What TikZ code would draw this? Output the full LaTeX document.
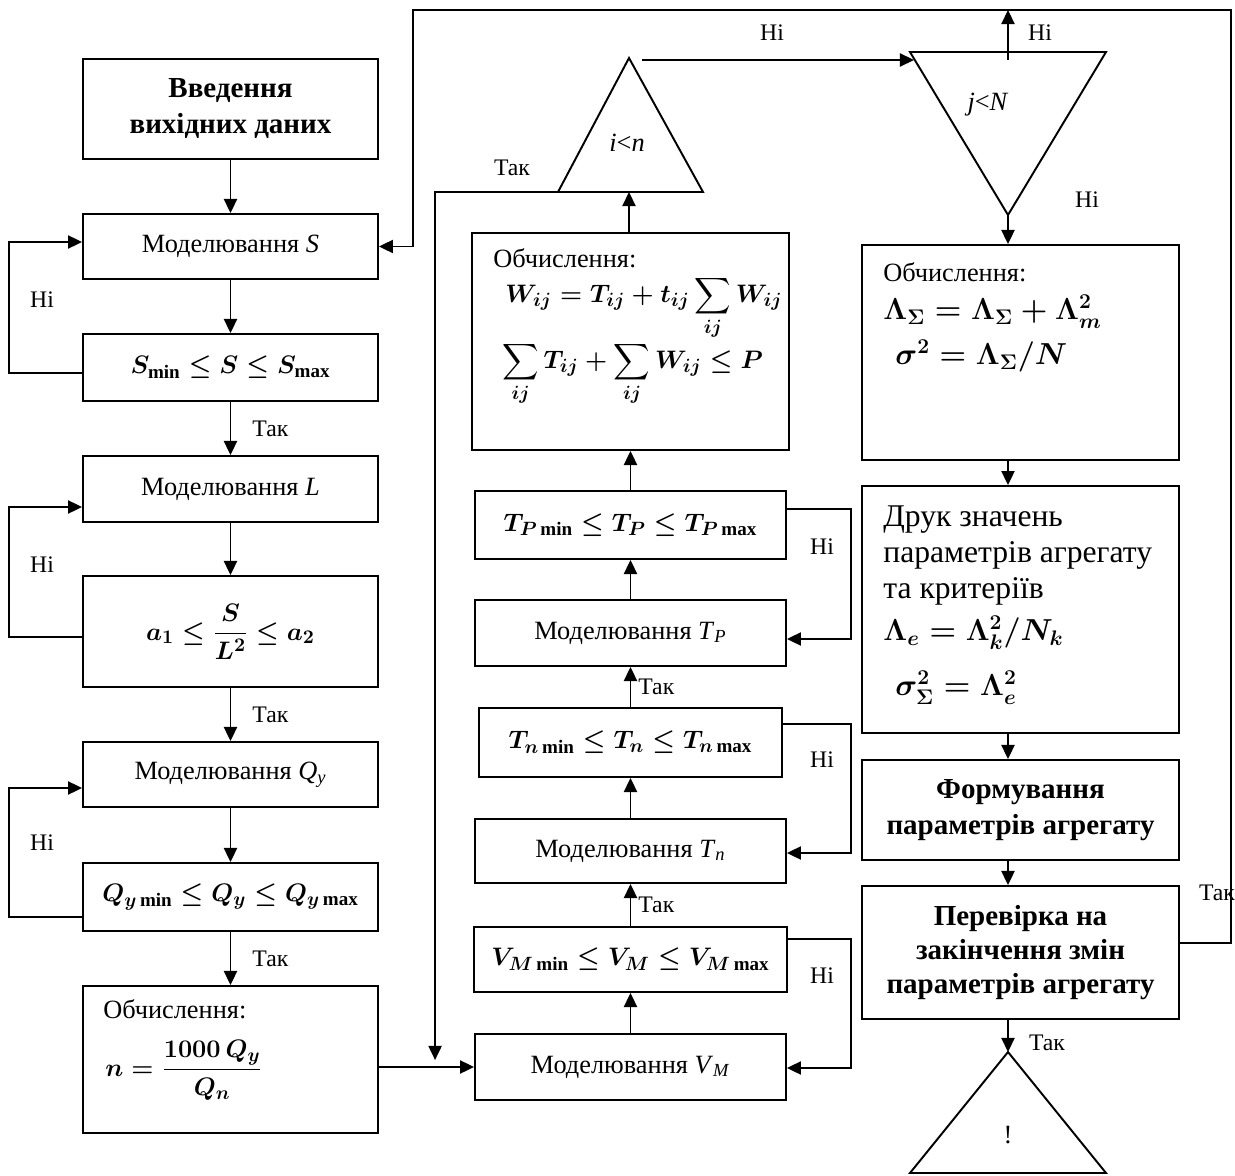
\documentclass[tikz,border=0pt]{standalone}
\usepackage{amsmath}
\usepackage{fontspec}
\setmainfont{Liberation Serif}
\usetikzlibrary{shapes,arrows.meta,positioning,calc}

\begin{document}
\begin{tikzpicture}[x=0.02cm,y=-0.02cm]

  \tikzset{main node/.style={rectangle, draw, line width=1.1pt, inner sep=0pt,
  		text centered, font=\fontsize{15}{18}\selectfont}, }
  \tikzset{bold node/.style={main node, align=center,
  		font=\fontsize{16.5}{20.5}\selectfont\bfseries}, }
  \tikzset{left col/.style={minimum width=5.9cm}, }
  \tikzset{mid col/.style={minimum width=6.22cm}, }
  \tikzset{right col/.style={minimum width=6.34cm}, }
  \tikzset{txt node/.style={inner sep=0pt, align=left,
  		font=\fontsize{15}{18}\selectfont}, }
  \tikzset{fml node/.style={inner sep=0pt, font=\fontsize{15.5}{18}\selectfont}, }
  \tikzset{lbl node/.style={inner sep=0pt, font=\fontsize{13.5}{16}\selectfont}, }
  \tikzset{tri/.style={line width=1.1pt, line join=miter}, }
  \tikzset{linea/.style={-{Triangle[length=8pt,width=7.5pt]}, line width=0.9pt}, }
\useasboundingbox (0,0) rectangle (1235,1176);

%% left column
\node[bold node, left col, minimum height=2cm] (1) at (230.5,109) {Введення\\вихідних даних};
\node[main node, left col, minimum height=1.3cm] (2) at (230.5,246.5) {Моделювання \textit{S}};
\node[main node, left col, minimum height=1.34cm, fml node] (3) at (230.5,367.5)
  {$\boldsymbol{S_{\min}\le S\le S_{\max}}$};
\node[main node, left col, minimum height=1.32cm] (4) at (230.5,489) {Моделювання \textit{L}};
\node[main node, left col, minimum height=2.22cm, fml node] (5) at (230.5,631.5)
  {$\boldsymbol{a_1\le\dfrac{S}{L^2}\le a_2}$};
\node[main node, left col, minimum height=1.3cm] (6) at (230.5,774.5)
  {Моделювання \textit{Q}\textsubscript{\textit{y}}};
\node[main node, left col, minimum height=1.36cm, fml node] (7) at (230.5,897)
  {$\boldsymbol{Q_{y\min}\le Q_y\le Q_{y\max}}$};
\node[main node, left col, minimum height=2.94cm] (8) at (230.5,1059.5) {};
\node[txt node, anchor=base west] (8t) at (103,1018) {Обчислення:};
\node[fml node, anchor=west] (8f) at (105,1070) {$\boldsymbol{n=\dfrac{1000\,Q_y}{Q_n}}$};

%% middle column
\node[main node, mid col, minimum height=1.32cm] (9) at (630.5,1067)
  {Моделювання \textit{V}\textsubscript{\textit{M}}};
\node[main node, minimum width=6.26cm, minimum height=1.3cm, fml node] (10) at (630.5,959.5)
  {$\boldsymbol{V_{M\min}\le V_M\le V_{M\max}}$};
\node[main node, mid col, minimum height=1.28cm] (11) at (630.5,851)
  {Моделювання \textit{T}\textsubscript{\textit{n}}};
\node[main node, minimum width=6.06cm, minimum height=1.38cm, fml node] (12) at (630.5,742.5)
  {$\boldsymbol{T_{n\min}\le T_n\le T_{n\max}}$};
\node[main node, mid col, minimum height=1.32cm] (13) at (630.5,633)
  {Моделювання \textit{T}\textsubscript{\textit{P}}};
\node[main node, mid col, minimum height=1.36cm, fml node] (14) at (630.5,525)
  {$\boldsymbol{T_{P\min}\le T_P\le T_{P\max}}$};
\node[main node, minimum width=6.34cm, minimum height=4.34cm] (15) at (630.5,341.5) {};
\node[txt node, anchor=base west] (15t) at (493,267) {Обчислення:};
\node[fml node, anchor=west] (15f) at (505,308)
  {$\boldsymbol{\displaystyle W_{ij}=T_{ij}+t_{ij}\sum_{ij}W_{ij}}$};
\node[fml node, anchor=west] (15g) at (502,374)
  {$\boldsymbol{\displaystyle\sum_{ij}T_{ij}+\sum_{ij}W_{ij}\le P}$};

%% right column
\node[main node, right col, minimum height=4.3cm] (16) at (1020.5,352.5) {};
\node[txt node, anchor=base west] (16t) at (883,281) {Обчислення:};
\node[fml node, anchor=west, font=\fontsize{17}{20}\selectfont] (16f) at (883,312)
  {$\boldsymbol{\Lambda_{\Sigma}=\Lambda_{\Sigma}+\Lambda_{m}^{2}}$};
\node[fml node, anchor=west, font=\fontsize{17}{20}\selectfont] (16g) at (895,356)
  {$\boldsymbol{\sigma^{2}=\Lambda_{\Sigma}/N}$};
\node[main node, right col, minimum height=4.94cm] (17) at (1020.5,609.5) {};
\node[txt node, anchor=north west, font=\fontsize{18}{20.5}\selectfont] (17t) at (883,505)
  {Друк значень\\параметрів агрегату\\та критеріїв};
\node[fml node, anchor=west, font=\fontsize{17}{20}\selectfont] (17f) at (883,633)
  {$\boldsymbol{\Lambda_{e}=\Lambda_{k}^{2}/N_{k}}$};
\node[fml node, anchor=west, font=\fontsize{17}{20}\selectfont] (17g) at (895,688)
  {$\boldsymbol{\sigma_{\Sigma}^{2}=\Lambda_{e}^{2}}$};
\node[bold node, right col, minimum height=2cm] (18) at (1020.5,810)
  {Формування\\параметрів агрегату};
\node[bold node, right col, minimum height=2.66cm, font=\fontsize{16.5}{19.5}\selectfont\bfseries]
  (19) at (1020.5,952.5) {Перевірка на\\закінчення змін\\параметрів агрегату};

%% triangles
\coordinate (t1a) at (629,58); \coordinate (t1l) at (558,192); \coordinate (t1r) at (703,192);
\draw[tri] (t1a) -- (t1l) -- (t1r) -- cycle;
\node[txt node] (t1) at (627,143) {\textit{i}<\textit{n}};
\coordinate (t2a) at (1008,215); \coordinate (t2l) at (910,52); \coordinate (t2r) at (1106,52);
\coordinate (t2m) at (1008,60);
\draw[tri] (t2l) -- (t2r) -- (t2a) -- cycle;
\node[txt node] (t2) at (988,105) {\textit{j}<\textit{N}};
\coordinate (t3a) at (1008,1052); \coordinate (t3l) at (910,1173); \coordinate (t3r) at (1106,1173);
\draw[tri] (t3a) -- (t3l) -- (t3r) -- cycle;
\node[txt node] (t3) at (1008,1135) {!};
\coordinate (lt) at (413,10);

%% straight arrows
\foreach \x /\y in {1/2,2/3,4/5,6/7,9/10,11/12,13/14,14/15}
  \path[linea] (\x) edge node {} (\y);
\foreach \x /\y in {3/4,5/6,7/8}
  \path[linea] (\x) edge node[lbl node, right=12pt] {Так} (\y);
\foreach \x /\y in {10/11,12/13}
  \path[linea] (\x) edge node[lbl node, right=4pt] {Так} (\y);
\foreach \x /\y in {16/17,17/18,18/19}
  \draw[linea] (\x.south -| t2a) -- (\y.north -| t2a);
\draw[linea] (15.north -| t1a) -- (t1l -| t1a);
\draw[linea] (t2a) -- (16.north -| t2a);
\draw[linea] (19.south -| t3a) -- (t3a);
\draw[linea] (8.east |- 9.west) -- (9.west);

%% loops on the left
\draw[linea] ($(3.west)+(0,5.5)$) -- ++(-73,0) |- ($(2.west)+(0,-4.5)$);
\draw[linea] ($(5.west)+(0,5.5)$) -- ++(-73,0) |- ($(4.west)+(0,18)$);
\draw[linea] ($(7.west)+(0,20)$) -- ++(-73,0) |- ($(6.west)+(0,13.5)$);
\node[lbl node] (n1) at (42,300) {Ні};
\node[lbl node] (n2) at (42,565) {Ні};
\node[lbl node] (n3) at (42,843) {Ні};

%% loops on the right of the middle column
\draw[linea] ($(14.east)+(0,-16)$) -- ++(64,0) |- ($(13.east)+(0,6)$);
\draw[linea] ($(12.east)+(0,-18.5)$) -- ++(68,0) |- ($(11.east)+(0,2)$);
\draw[linea] ($(10.east)+(0,-20.5)$) -- ++(63,0) |- ($(9.east)+(0,1)$);
\node[lbl node] (n4) at (822,547) {Ні};
\node[lbl node] (n5) at (822,760) {Ні};
\node[lbl node] (n6) at (822,976) {Ні};

%% decisions
\draw[linea] (t1l) -| ($(9.west)+(-39,-7)$);
\node[lbl node] (y1) at (512,168) {Так};
\draw[linea] ($(t1a)+(13,2)$) -- ($(t2l)+(4,8)$);
\node[lbl node] (n7) at (772,33) {Ні};
\draw[linea] (t2m) -- (t2m |- lt);
\node[lbl node] (n8) at (1040,33) {Ні};
\node[lbl node] (n9) at (1087,200) {Ні};
\draw[linea] ($(19.east)+(0,-9.5)$) -- ++(51,0) |- (lt) |- (2.east);
\node[lbl node] (y2) at (1217,893) {Так};
\node[lbl node] (y3) at (1047,1043) {Так};
%%
\end{tikzpicture}
\end{document}
